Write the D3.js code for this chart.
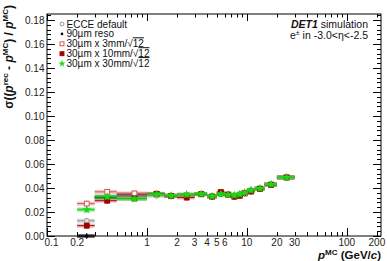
<!DOCTYPE html>
<html>
<head>
<meta charset="utf-8">
<script src="https://cdn.jsdelivr.net/npm/d3@7"></script>
<style>
body{margin:0;background:#fff}
svg{display:block;font-family:"Liberation Sans",Arial,sans-serif}
</style>
</head>
<body>
<div id="chartDiv"></div>
<script>
//---bins in p^MC (GeV/c)---
var BinLo=[0.2,0.3,0.5,1,1.5,2,3,4,5,6,7,8,9,10,12,15,20]
var BinHi=[0.3,0.5,1,1.5,2,3,4,5,6,7,8,9,10,12,15,20,30]
var BinCenter=[0.25,0.4,0.75,1.25,1.75,2.5,3.5,4.5,5.5,6.5,7.5,8.5,9.5,11,13.5,17.5,25]

//---resolution per series---
var EcceDefault=[0.0127,0.0330,0.0330,0.0335,0.0335,0.0340,0.0350,0.0330,0.0350,0.0345,0.0340,0.0350,0.0360,0.0380,0.0395,0.0430,0.0488]
var Reso90=[0.0,0.0320,0.0346,0.0350,0.0335,0.0340,0.0350,0.0330,0.0350,0.0345,0.0340,0.0350,0.0360,0.0380,0.0396,0.0430,0.0488]
var Pix3mm=[0.0270,0.0368,0.0355,0.0350,0.0335,0.0340,0.0350,0.0330,0.0355,0.0345,0.0335,0.0345,0.0360,0.0378,0.0396,0.0430,0.0488]
var Pix10mm=[0.0086,0.0294,0.0313,0.0352,0.0332,0.0320,0.0348,0.0328,0.0366,0.0345,0.0327,0.0335,0.0355,0.0370,0.0392,0.0425,0.0488]
var Pix30mm=[0.0220,0.0327,0.0310,0.0348,0.0336,0.0346,0.0350,0.0332,0.0350,0.0345,0.0340,0.0348,0.0360,0.0382,0.0396,0.0430,0.0488]

var SeriesNames=["ECCE default","90\u00b5m reso","30\u00b5m x 3mm/","30\u00b5m x 10mm/","30\u00b5m x 30mm/"]
var SeriesSqrt=[false,false,true,true,true]

var XTickLabels=[0.1,0.2,1,2,3,4,5,6,10,20,30,100,200]
var YTickValues=[0,0.02,0.04,0.06,0.08,0.1,0.12,0.14,0.16,0.18]

//---styles---
var SeriesStyle=[
 {data:EcceDefault,color:"#9a9a9a",band:"#b0b0b0",shape:"circle",fill:"none"},
 {data:Reso90,color:"#000",band:"#000",shape:"dot",fill:"#000"},
 {data:Pix3mm,color:"#d95555",band:"#e39a9a",shape:"square",fill:"#fff"},
 {data:Pix10mm,color:"#a00000",band:"#d98c8c",shape:"square",fill:"#a00000"},
 {data:Pix30mm,color:"#11dd11",band:"#22cc22",shape:"star",fill:"#11dd11"}
]

var Width=387
var Height=261
var Left=47,Right=381,Top=14,Bottom=236

var ChartSVG=d3.select("#chartDiv").append("svg")
 .attr("width",Width).attr("height",Height)

var xScale=d3.scaleLog().domain([0.1,220]).range([Left,Right])
var yScale=d3.scaleLinear().domain([0,0.185]).range([Bottom,Top])

//---frame---
ChartSVG.append("rect")
 .attr("x",Left).attr("y",Top)
 .attr("width",Right-Left).attr("height",Bottom-Top)
 .attr("fill","none").attr("stroke","#000").attr("stroke-width",1)

//---x ticks (bottom + top)---
var xMinor=[]
;[0.1,1,10,100].forEach(function(d){
 for(var k=1;k<10;k++){ var v=d*k; if(v<=220) xMinor.push(v) }
})
var TickG=ChartSVG.append("g").attr("stroke","#000").attr("stroke-width",1)
xMinor.forEach(function(v){
 var major=(Math.abs(Math.log10(v)-Math.round(Math.log10(v)))<1e-9)
 var x=Math.round(xScale(v))+0.5
 TickG.append("line").attr("x1",x).attr("x2",x)
  .attr("y1",Bottom).attr("y2",Bottom-(major?8:4))
 TickG.append("line").attr("x1",x).attr("x2",x)
  .attr("y1",Top).attr("y2",Top+(major?7:3.5))
})

//---y ticks (left + right)---
for(var i=0;i<=46;i++){
 var v=i*0.004
 if(v>0.185) break
 var major=(i%5==0)
 var y=Math.round(yScale(v))+0.5
 TickG.append("line").attr("x1",Left).attr("x2",Left+(major?8:4)).attr("y1",y).attr("y2",y)
 TickG.append("line").attr("x1",Right).attr("x2",Right-(major?8:4)).attr("y1",y).attr("y2",y)
}

//---tick labels---  (0.1 nudged right so it clears 0.00)
ChartSVG.append("g").selectAll("text").data(XTickLabels).join("text")
 .attr("x",function(d){return xScale(d)+(d==0.1?4.5:0)})
 .attr("y",246)
 .attr("text-anchor","middle")
 .attr("font-size","10px")
 .attr("fill","#222")
 .text(function(d){return d})

ChartSVG.append("g").selectAll("text").data(YTickValues).join("text")
 .attr("x",44.5)
 .attr("y",function(d){return yScale(d)+3.5})
 .attr("text-anchor","end")
 .attr("font-size","10px")
 .attr("fill","#222")
 .text(function(d){return d3.format(".2f")(d)})

//---axis titles---
var xTitle=ChartSVG.append("text")
 .attr("x",Right).attr("y",259)
 .attr("text-anchor","end")
 .attr("font-size","11.5px").attr("font-weight","bold").attr("fill","#111")
xTitle.append("tspan").attr("font-style","italic").text("p")
xTitle.append("tspan").attr("font-size","8px").attr("dy",-4.5).text("MC")
xTitle.append("tspan").attr("dy",4.5).text(" (GeV/")
xTitle.append("tspan").attr("font-style","italic").text("c")
xTitle.append("tspan").text(")")

var yTitle=ChartSVG.append("text")
 .attr("transform","translate(12.5,5) rotate(-90)")
 .attr("text-anchor","end")
 .attr("font-size","12px").attr("font-weight","bold").attr("fill","#111")
yTitle.append("tspan").text("\u03c3((")
yTitle.append("tspan").attr("font-style","italic").text("p")
yTitle.append("tspan").attr("font-size","8px").attr("dy",-4.5).text("rec")
yTitle.append("tspan").attr("dy",4.5).text(" - ")
yTitle.append("tspan").attr("font-style","italic").text("p")
yTitle.append("tspan").attr("font-size","8px").attr("dy",-4.5).text("MC")
yTitle.append("tspan").attr("dy",4.5).text(") / ")
yTitle.append("tspan").attr("font-style","italic").text("p")
yTitle.append("tspan").attr("font-size","8px").attr("dy",-4.5).text("MC")
yTitle.append("tspan").attr("dy",4.5).text(")")

//---marker drawing---
function drawMarker(g,s,x,y,size){
 if(s.shape=="circle"){
  g.append("circle").attr("cx",x).attr("cy",y).attr("r",size*0.75)
   .attr("fill","#fff").attr("fill-opacity",0.6).attr("stroke",s.color).attr("stroke-width",1)
 } else if(s.shape=="dot"){
  g.append("circle").attr("cx",x).attr("cy",y).attr("r",size*0.5)
   .attr("fill",s.color)
 } else if(s.shape=="square"){
  g.append("rect").attr("x",x-size*0.75).attr("y",y-size*0.75)
   .attr("width",size*1.5).attr("height",size*1.5)
   .attr("fill",s.fill).attr("stroke",s.color).attr("stroke-width",1)
 } else {
  g.append("path").attr("transform","translate("+x+","+y+")")
   .attr("d",d3.symbol().type(d3.symbolStar).size(size*size*2.4)())
   .attr("fill",s.fill)
 }
}

//---series---
var PlotG=ChartSVG.append("g")
SeriesStyle.forEach(function(s,si){
 var g=PlotG.append("g")
 s.data.forEach(function(v,i){
  var y=yScale(v)
  g.append("line")
   .attr("x1",xScale(BinLo[i])).attr("x2",xScale(BinHi[i]))
   .attr("y1",y).attr("y2",y)
   .attr("stroke",s.band).attr("stroke-opacity",0.55).attr("stroke-width",4)
  g.append("line")
   .attr("x1",xScale(BinLo[i])).attr("x2",xScale(BinHi[i]))
   .attr("y1",y).attr("y2",y)
   .attr("stroke",s.color).attr("stroke-width",1)
  g.append("line")
   .attr("x1",xScale(BinCenter[i])).attr("x2",xScale(BinCenter[i]))
   .attr("y1",y-3).attr("y2",y+3)
   .attr("stroke",s.color).attr("stroke-width",1)
  drawMarker(g,s,xScale(BinCenter[i]),y,3.2)
 })
})

//---legend---
var LegendG=ChartSVG.append("g")
SeriesStyle.forEach(function(s,i){
 var y=24+i*9.9
 drawMarker(LegendG,s,62,y,2.6)
 var t=LegendG.append("text").attr("x",66.5).attr("y",y+3.5)
  .attr("font-size","10px").attr("fill","#111")
 t.append("tspan").text(SeriesNames[i])
 if(SeriesSqrt[i]){
  t.append("tspan").text("\u221a")
  t.append("tspan").attr("text-decoration","overline").text("12")
 }
})

//---label---
var lab1=ChartSVG.append("text").attr("x",368).attr("y",27.5)
 .attr("text-anchor","end").attr("font-size","10.5px").attr("fill","#111")
lab1.append("tspan").attr("font-weight","bold").attr("font-style","italic").text("DET1")
lab1.append("tspan").text(" simulation")
var lab2=ChartSVG.append("text").attr("x",368).attr("y",38.5)
 .attr("text-anchor","end").attr("font-size","10.5px").attr("fill","#111")
lab2.append("tspan").text("e")
lab2.append("tspan").attr("font-size","7px").attr("dy",-4).text("\u00b1")
lab2.append("tspan").attr("dy",4).text(" in -3.0<\u03b7<-2.5")
</script>
</body>
</html>
